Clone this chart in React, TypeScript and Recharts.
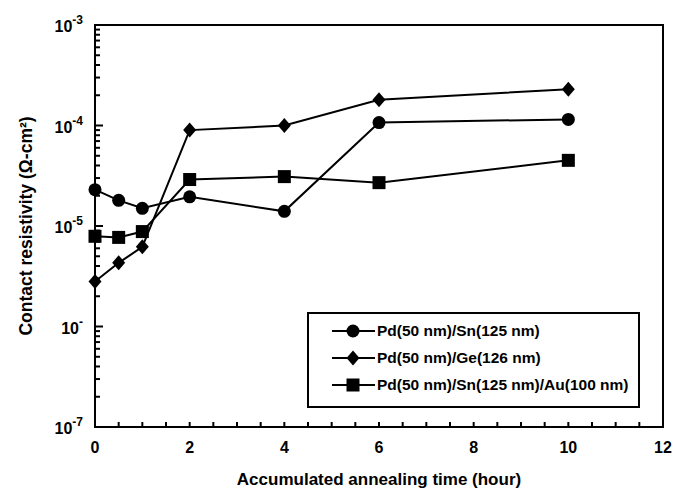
import { LineChart, Line, XAxis, YAxis, ReferenceArea } from "recharts";

const hours = [0, 0.5, 1, 2, 4, 6, 10];
const pdSn = [2.3e-5, 1.8e-5, 1.5e-5, 1.95e-5, 1.4e-5, 1.07e-4, 1.15e-4];
const pdGe = [2.8e-6, 4.3e-6, 6.2e-6, 9.0e-5, 1.0e-4, 1.8e-4, 2.3e-4];
const pdSnAu = [7.9e-6, 7.7e-6, 8.8e-6, 2.9e-5, 3.1e-5, 2.7e-5, 4.5e-5];

const seriesNames = ["Pd(50 nm)/Sn(125 nm)", "Pd(50 nm)/Ge(126 nm)", "Pd(50 nm)/Sn(125 nm)/Au(100 nm)"];
const seriesKeys = ["sn", "ge", "au"];
const shapes = ["circle", "diamond", "square"];

const xTicks = [0, 0.5, 1, 1.5, 2, 2.5, 3, 3.5, 4, 4.5, 5, 5.5, 6, 6.5, 7, 7.5, 8, 8.5, 9, 9.5, 10, 10.5, 11, 11.5, 12];
const decades = [-7, -6, -5, -4, -3];
// the scan lost the "6" of 10^-6
const decadeLabels = ["-7", "-", "-5", "-4", "-3"];

const data = hours.map((h, i) => ({ h, sn: pdSn[i], ge: pdGe[i], au: pdSnAu[i] }));

const yTicks: number[] = [];
decades.forEach((d) => {
  if (d === -3) {
    yTicks.push(1e-3);
    return;
  }
  for (let k = 1; k <= 9; k++) yTicks.push(k * Math.pow(10, d));
});

const FONT = "Liberation Sans, Arial, sans-serif";

const Marker = ({ cx, cy, shape }: { cx: number; cy: number; shape: string }) => {
  if (shape === "circle") return <circle cx={cx} cy={cy} r={6.5} fill="#000" />;
  if (shape === "square") return <rect x={cx - 6.5} y={cy - 6.5} width={13} height={13} fill="#000" />;
  return <polygon points={`${cx},${cy - 7.5} ${cx + 6.5},${cy} ${cx},${cy + 7.5} ${cx - 6.5},${cy}`} fill="#000" />;
};

const YTick = (props: any) => {
  const { x, y, payload } = props;
  const v = payload.value;
  const exp = Math.log10(v);
  const isMajor = Math.abs(exp - Math.round(exp)) < 1e-6;
  const idx = decades.indexOf(Math.round(exp));
  return (
    <g>
      <line x1={x} x2={x + (isMajor ? 8 : 5)} y1={y} y2={y} stroke="#000" strokeWidth={2} />
      {isMajor && (
        <text x={x - 12} y={y + 7} textAnchor="end" fontFamily={FONT} fontWeight="bold" fontSize={16} fill="#000">
          <tspan>10</tspan>
          <tspan dy={-8} fontSize={12}>{decadeLabels[idx]}</tspan>
        </text>
      )}
    </g>
  );
};

const XTick = (props: any) => {
  const { x, y, payload } = props;
  const v = payload.value;
  const isLabel = v % 2 === 0;
  return (
    <g>
      <line x1={x} x2={x} y1={y} y2={y - 5} stroke="#000" strokeWidth={2} />
      {isLabel && (
        <text x={x} y={y + 26} textAnchor="middle" fontFamily={FONT} fontWeight="bold" fontSize={16} fill="#000">
          {v}
        </text>
      )}
    </g>
  );
};

const LegendBox = () => (
  <div
    style={{
      position: "absolute",
      left: 307,
      top: 312,
      width: 333,
      height: 96,
      border: "2px solid #000",
      background: "#fff",
      boxSizing: "border-box",
      paddingTop: 3,
    }}
  >
    {seriesNames.map((name, i) => (
      <div key={name} style={{ display: "flex", alignItems: "center", height: 27 }}>
        <svg width={68} height={20}>
          <line x1={23} x2={66} y1={10} y2={10} stroke="#000" strokeWidth={2} />
          <Marker cx={44} cy={10} shape={shapes[i]} />
        </svg>
        <span style={{ fontFamily: FONT, fontWeight: "bold", fontSize: 15.5, color: "#000" }}>{name}</span>
      </div>
    ))}
  </div>
);

export default function App() {
  return (
    <div style={{ position: "absolute", left: 0, top: 0, width: 681, height: 491, background: "#fff" }}>
      <LineChart width={681} height={491} data={data} margin={{ top: 25, right: 18, bottom: 0, left: 0 }}>
        <ReferenceArea x1={0} x2={12} y1={1e-7} y2={1e-3} fill="none" stroke="#000" strokeWidth={2} ifOverflow="visible" />
        <XAxis
          dataKey="h"
          type="number"
          domain={[0, 12]}
          ticks={xTicks}
          interval={0}
          height={64}
          tickSize={0}
          tickMargin={0}
          tickLine={false}
          axisLine={{ stroke: "#000", strokeWidth: 2 }}
          tick={<XTick />}
          label={{
            value: "Accumulated annealing time (hour)",
            position: "insideBottom",
            offset: 6,
            style: { fontFamily: FONT, fontWeight: "bold", fontSize: 17, fill: "#000" },
          }}
        />
        <YAxis
          type="number"
          scale="log"
          domain={[1e-7, 1e-3]}
          ticks={yTicks}
          interval={0}
          width={95}
          tickSize={0}
          tickMargin={0}
          tickLine={false}
          allowDataOverflow
          axisLine={{ stroke: "#000", strokeWidth: 2 }}
          tick={<YTick />}
          label={{
            value: "Contact resistivity (\u03A9-cm\u00B2)",
            angle: -90,
            position: "insideLeft",
            offset: 26,
            style: { textAnchor: "middle", fontFamily: FONT, fontWeight: "bold", fontSize: 17.5, fill: "#000" },
          }}
        />
        {seriesKeys.map((k, i) => (
          <Line
            key={k}
            dataKey={k}
            name={seriesNames[i]}
            stroke="#000"
            strokeWidth={2}
            isAnimationActive={false}
            dot={(p: any) => <Marker key={`${k}-${p.index}`} cx={p.cx} cy={p.cy} shape={shapes[i]} />}
            activeDot={false}
          />
        ))}
      </LineChart>
      <LegendBox />
    </div>
  );
}
